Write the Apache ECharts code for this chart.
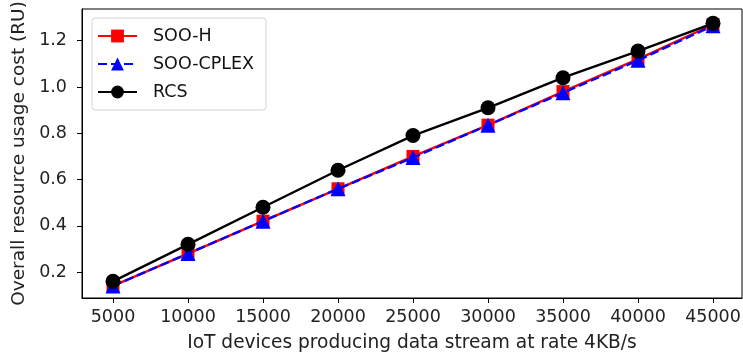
<!DOCTYPE html>
<html><head><meta charset="utf-8">
<script src="https://cdn.jsdelivr.net/npm/echarts@6/dist/echarts.min.js"></script>
<style>html,body{margin:0;padding:0;background:#fff}#c{width:743px;height:361px}</style>
</head><body><div id="c"></div>
<script>
const devices = [5000, 10000, 15000, 20000, 25000, 30000, 35000, 40000, 45000];
const sooH = [0.14, 0.28, 0.42, 0.56, 0.70, 0.835, 0.98, 1.12, 1.27];
const sooCplex = [0.14, 0.28, 0.42, 0.56, 0.695, 0.835, 0.975, 1.115, 1.265];
const rcs = [0.16, 0.32, 0.48, 0.64, 0.79, 0.91, 1.04, 1.155, 1.275];
const xTicks = [5000, 10000, 15000, 20000, 25000, 30000, 35000, 40000, 45000];
const yTicks = [0.2, 0.4, 0.6, 0.8, 1.0, 1.2];

const FONT = 'DejaVu Sans';
const pairs = arr => devices.map((d, i) => [d, arr[i]]);
const chart = echarts.init(document.getElementById('c'), null, {renderer: 'canvas'});
chart.setOption({
  animation: false,
  backgroundColor: '#fff',
  grid: {left: 82, right: 1, top: 9, bottom: 63, outerBoundsMode: 'none', containLabel: false,
    show: true, borderColor: '#000', borderWidth: 1, backgroundColor: 'transparent'},
  legend: {
    orient: 'vertical', left: 92, top: 18,
    itemWidth: 39, itemHeight: 16, itemGap: 10,
    padding: [9, 12, 9, 5],
    borderColor: '#d4d4d4', borderWidth: 1, borderRadius: 3,
    backgroundColor: 'rgba(255,255,255,0.8)',
    textStyle: {fontFamily: FONT, fontSize: 17.5, color: '#111', padding: [0, 0, 0, 11]},
    data: ['SOO-H', 'SOO-CPLEX', 'RCS']
  },
  xAxis: {
    type: 'value', min: 2933, max: 46933,
    axisLine: {show: true, lineStyle: {color: '#000', width: 1}},
    axisTick: {show: true, customValues: xTicks, length: 5, lineStyle: {color: '#000'}},
    axisLabel: {customValues: xTicks, margin: 10, fontFamily: FONT, fontSize: 17.5, color: '#222',
      formatter: v => String(v)},
    splitLine: {show: false},
    name: 'IoT devices producing data stream at rate 4KB/s',
    nameLocation: 'middle', nameGap: 36,
    nameTextStyle: {fontFamily: FONT, fontSize: 18.6, color: '#222'}
  },
  yAxis: {
    type: 'value', min: 0.088, max: 1.337,
    axisLine: {show: true, lineStyle: {color: '#000', width: 1}},
    axisTick: {show: true, customValues: yTicks, length: 5, lineStyle: {color: '#000'}},
    axisLabel: {customValues: yTicks, margin: 15, fontFamily: FONT, fontSize: 17.5, color: '#222',
      formatter: v => v.toFixed(1)},
    splitLine: {show: false},
    name: 'Overall resource usage cost (RU)',
    nameLocation: 'middle', nameGap: 52, nameRotate: 90,
    nameTextStyle: {fontFamily: FONT, fontSize: 18.5, color: '#222'}
  },
  series: [
    {name: 'SOO-H', type: 'line', data: pairs(sooH), symbol: 'rect', symbolSize: 13,
     itemStyle: {color: '#ff0000'}, lineStyle: {color: '#ff0000', width: 2.4}, z: 2},
    {name: 'SOO-CPLEX', type: 'line', data: pairs(sooCplex), symbol: 'triangle', symbolSize: 15,
     itemStyle: {color: '#0000ff'}, lineStyle: {color: '#0000ff', width: 2.4, type: [9, 4]}, z: 3},
    {name: 'RCS', type: 'line', data: pairs(rcs), symbol: 'circle', symbolSize: 15,
     itemStyle: {color: '#000'}, lineStyle: {color: '#000', width: 2.4}, z: 4}
  ]
});
</script></body></html>
